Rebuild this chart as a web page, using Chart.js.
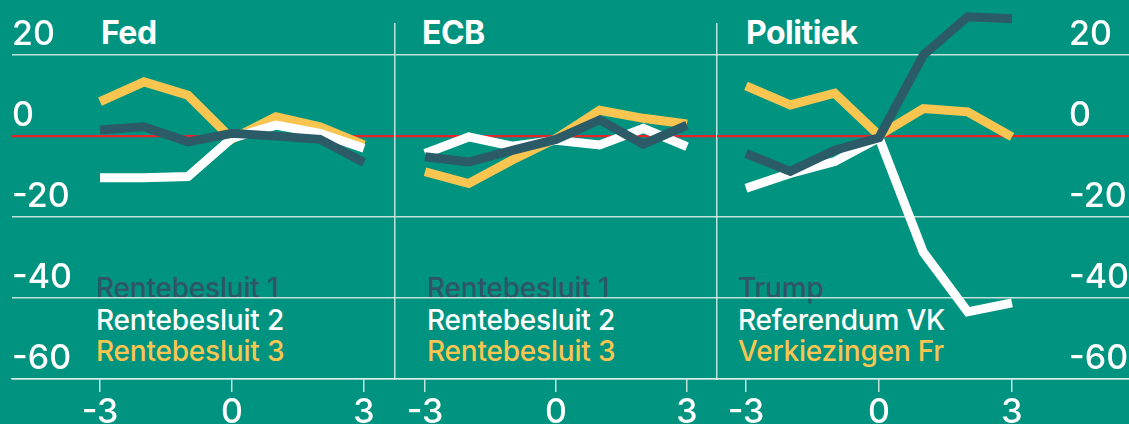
<!DOCTYPE html>
<html>
<head>
<meta charset="utf-8">
<script src="https://cdn.jsdelivr.net/npm/chart.js@4.4.1/dist/chart.umd.min.js"></script>
<style>
  html, body { margin: 0; padding: 0; background: #009480; overflow: hidden; }
  #wrap { position: relative; width: 1129px; height: 424px; overflow: hidden; font-family: Inter, sans-serif; }
  canvas { position: absolute; left: 0; top: 0; }
  .title { position: absolute; top: 15px; color: #fff; font-weight: 700; font-size: 32px; line-height: 36px; letter-spacing: -0.5px; }
  .legend { position: absolute; top: 273px; font-size: 28px; font-weight: 500; line-height: 31.5px; letter-spacing: -0.2px; white-space: nowrap; }
</style>
</head>
<body>
<div id="wrap">
  <div class="title" style="left:101px">Fed</div>
  <div class="title" style="left:422px">ECB</div>
  <div class="title" style="left:746px">Politiek</div>
  <div class="legend" id="leg0" style="left:96px"></div>
  <div class="legend" id="leg1" style="left:427px"></div>
  <div class="legend" id="leg2" style="left:738px"></div>
  <canvas id="c0" width="1129" height="450"></canvas>
  <canvas id="c1" width="1129" height="450"></canvas>
  <canvas id="c2" width="1129" height="450"></canvas>
</div>
<script>
const days = [-3, -2, -1, 0, 1, 2, 3];
const xTicks = [-3, 0, 3];
const yTicks = [-60, -40, -20, 0, 20];

const fedNames = ['Rentebesluit 1', 'Rentebesluit 2', 'Rentebesluit 3'];
const fed1 = [1.5, 2.3, -1.4, 0.7, 0, -0.8, -6.5];
const fed2 = [-10.3, -10.3, -10, -0.5, 2.7, 0.7, -3];
const fed3 = [8.5, 13.4, 10.1, -0.7, 4.8, 2.3, -2.2];

const ecbNames = ['Rentebesluit 1', 'Rentebesluit 2', 'Rentebesluit 3'];
const ecb1 = [-5.1, -6.4, -3.5, -0.8, 4.0, -2.0, 2.7];
const ecb2 = [-4.3, -0.2, -2.5, -1, -2.2, 1.9, -2.6];
const ecb3 = [-8.8, -11.7, -5.9, -0.6, 6.4, 4.4, 3.0];

const polNames = ['Trump', 'Referendum VK', 'Verkiezingen Fr'];
const pol1 = [-4.3, -8.7, -3.5, -0.4, 20.0, 29.5, 29.0];
const pol2 = [-12.9, -9.2, -6.3, -0.4, -28.7, -43.4, -41.2];
const pol3 = [12.4, 7.7, 10.6, 0.2, 6.8, 6.0, -0.2];

const colors = ['#2c5b68', '#ffffff', '#f8c550'];
const legendColors = ['#2f5567', '#ffffff', '#f8c550'];
const gridColor = 'rgba(225,240,236,0.85)';
const zeroColor = '#e8232b';
const font = 'Inter';

function makeDatasets(series, names) {
  return series.map((s, i) => ({
    label: names[i],
    data: s.map((v, j) => ({ x: days[j], y: v })),
    borderColor: colors[i],
    borderWidth: 9,
    borderJoinStyle: 'miter',
    borderCapStyle: 'butt',
    pointRadius: 0,
    tension: 0,
    clip: false
  }));
}

function fillLegend(id, names) {
  const el = document.getElementById(id);
  names.forEach((n, i) => {
    const d = document.createElement('div');
    d.textContent = n;
    d.style.color = legendColors[i];
    el.appendChild(d);
  });
}

function yAxis(position, showLabels) {
  return {
    type: 'linear',
    position: position,
    min: -60,
    max: 27.7,
    afterBuildTicks: axis => { axis.ticks = yTicks.map(v => ({ value: v })); },
    grid: {
      drawTicks: false,
      color: ctx => ctx.tick && ctx.tick.value === 0 ? zeroColor : gridColor,
      lineWidth: ctx => ctx.tick && ctx.tick.value === 0 ? 2.2 : 1.5
    },
    border: { display: false },
    ticks: {
      display: showLabels,
      mirror: true,
      crossAlign: position === 'right' ? 'far' : 'near',
      padding: 0,
      labelOffset: -20,
      color: '#fff',
      font: { family: font, size: 34, weight: 500 }
    }
  };
}

function renderPanel(canvasId, series, names, xmin, xmax, padLeft, padRight, yPos, showY, sideBorders) {
  const scales = {
    x: {
      type: 'linear',
      min: xmin,
      max: xmax,
      afterBuildTicks: axis => { axis.ticks = xTicks.map(v => ({ value: v })); },
      afterFit: axis => { axis.height = 71; },
      grid: { drawOnChartArea: false, drawTicks: true, tickLength: 13, color: gridColor, lineWidth: 1.5 },
      border: { display: true, color: gridColor, width: 1.5 },
      ticks: { color: '#fff', padding: 0, font: { family: font, size: 34, weight: 500 } }
    },
    y: yAxis(yPos, showY)
  };
  if (sideBorders) {
    scales.y.border = { display: true, color: gridColor, width: 1.5 };
    scales.y2 = {
      type: 'linear', position: 'right', min: -60, max: 27.7,
      grid: { display: false, drawTicks: false },
      ticks: { display: false },
      border: { display: true, color: gridColor, width: 1.5 }
    };
  }
  new Chart(document.getElementById(canvasId), {
    type: 'line',
    data: { datasets: makeDatasets(series, names) },
    options: {
      responsive: false,
      animation: false,
      layout: { padding: { top: 24, left: padLeft, right: padRight, bottom: 0 } },
      plugins: { legend: { display: false }, tooltip: { enabled: false } },
      scales: scales
    }
  });
}

document.addEventListener('DOMContentLoaded', () => {
  fillLegend('leg0', fedNames);
  fillLegend('leg1', ecbNames);
  fillLegend('leg2', polNames);
  renderPanel('c0', [fed1, fed2, fed3], fedNames, -5.0, 3.705, 12, 734, 'left', true, false);
  renderPanel('c1', [ecb1, ecb2, ecb3], ecbNames, -3.687, 3.687, 395, 412, 'left', false, true);
  renderPanel('c2', [pol1, pol2, pol3], polNames, -3.654, 5.639, 717, 0, 'right', true, false);
});
</script>
</body>
</html>
